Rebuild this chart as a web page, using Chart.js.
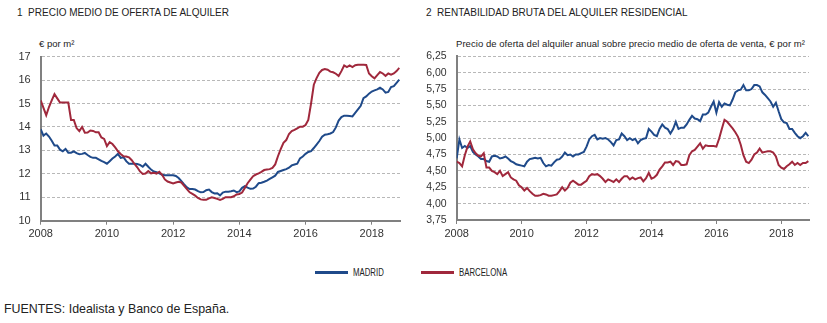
<!DOCTYPE html>
<html><head><meta charset="utf-8">
<script src="https://cdn.jsdelivr.net/npm/chart.js@4.4.0/dist/chart.umd.min.js"></script>
<style>
body{margin:0;background:#fff;width:827px;height:323px;overflow:hidden;position:relative;font-family:"Liberation Sans",Arial,sans-serif;color:#222}
.t{position:absolute;white-space:nowrap;line-height:1}
canvas{position:absolute}
.lg{position:absolute;height:3px;width:33px}
.lt{transform:scaleX(0.78);transform-origin:0 50%}
</style></head><body>
<div class="t" style="left:17px;top:8px;font-size:10px">1&nbsp; PRECIO MEDIO DE OFERTA DE ALQUILER</div>
<div class="t" style="left:39px;top:39px;font-size:9.5px">€ por m²</div>
<div class="t" style="left:426px;top:8px;font-size:10px">2&nbsp; RENTABILIDAD BRUTA DEL ALQUILER RESIDENCIAL</div>
<div class="t" style="left:456px;top:39px;font-size:9.5px;letter-spacing:0.05px">Precio de oferta del alquiler anual sobre precio medio de oferta de venta, € por m²</div>
<div class="lg" style="left:315px;top:271px;background:#1F4A8A"></div>
<div class="t lt" style="left:353px;top:267.5px;font-size:10px">MADRID</div>
<div class="lg" style="left:421px;top:271px;background:#A0283C"></div>
<div class="t lt" style="left:459px;top:267.5px;font-size:10px">BARCELONA</div>
<div class="t" style="left:4px;top:303px;font-size:12.4px">FUENTES: Idealista y Banco de España.</div>
<canvas id="c1" width="410" height="210" style="left:0;top:40px"></canvas>
<canvas id="c2" width="412" height="210" style="left:415px;top:40px"></canvas>
<script>
const startYear = 2008;
const yearTicks = [2008, 2010, 2012, 2014, 2016, 2018];
const seriesNames = ['MADRID', 'BARCELONA'];
const seriesColors = ['#1F4A8A', '#A0283C'];

// Chart 1: precio medio de oferta de alquiler (€/m²), monthly Jan 2008 - Nov 2018
const madridPrecio = [
 13.90,13.63,13.72,13.59,13.41,13.21,13.21,13.03,12.96,13.06,
 12.90,12.90,12.96,12.88,12.84,12.85,12.89,12.80,12.72,12.68,
 12.68,12.62,12.55,12.50,12.43,12.54,12.65,12.74,12.85,12.68,
 12.71,12.54,12.43,12.43,12.43,12.42,12.38,12.30,12.43,12.30,
 12.18,12.10,12.07,12.02,11.96,11.94,11.94,11.94,11.94,11.91,
 11.82,11.69,11.55,11.42,11.35,11.35,11.33,11.26,11.21,11.22,
 11.30,11.33,11.22,11.16,11.17,11.08,11.20,11.24,11.24,11.26,
 11.29,11.22,11.25,11.40,11.47,11.41,11.36,11.37,11.45,11.60,
 11.62,11.66,11.71,11.78,11.85,11.92,12.08,12.12,12.16,12.20,
 12.26,12.36,12.40,12.43,12.66,12.74,12.85,12.93,12.97,13.10,
 13.25,13.40,13.58,13.67,13.69,13.72,13.78,13.98,14.27,14.42,
 14.48,14.48,14.47,14.45,14.60,14.75,14.90,15.23,15.30,15.42,
 15.51,15.56,15.60,15.67,15.60,15.46,15.49,15.70,15.74,15.88,
 16.02];
const barcelonaPrecio = [
 15.13,14.81,14.50,14.85,15.13,15.40,15.22,15.04,15.04,15.04,
 15.04,14.30,14.30,13.95,13.82,14.00,13.75,13.76,13.85,13.83,
 13.77,13.77,13.55,13.49,13.18,13.35,13.27,13.13,12.96,12.85,
 12.75,12.74,12.70,12.58,12.42,12.28,12.10,11.99,12.01,12.12,
 12.02,12.04,12.01,12.09,11.96,11.76,11.67,11.63,11.59,11.63,
 11.66,11.63,11.49,11.35,11.21,11.14,11.07,10.97,10.91,10.89,
 10.89,10.95,11.00,10.97,10.93,10.89,10.93,11.00,11.00,11.00,
 11.04,11.12,11.14,11.20,11.40,11.60,11.75,11.90,11.97,12.02,
 12.08,12.16,12.18,12.20,12.25,12.40,12.75,13.05,13.32,13.44,
 13.70,13.82,13.87,13.94,14.01,14.01,14.08,14.30,15.00,15.80,
 16.08,16.31,16.43,16.47,16.44,16.36,16.33,16.27,16.17,16.38,
 16.62,16.55,16.62,16.55,16.63,16.65,16.65,16.65,16.64,16.28,
 16.16,16.07,16.21,16.34,16.28,16.18,16.28,16.23,16.28,16.38,
 16.52];

// Chart 2: rentabilidad bruta del alquiler (%)
const madridRent = [
 4.69,4.98,4.85,4.88,4.85,4.88,4.79,4.75,4.72,4.68,
 4.68,4.65,4.64,4.72,4.73,4.72,4.69,4.70,4.72,4.69,
 4.65,4.63,4.60,4.59,4.58,4.57,4.64,4.68,4.69,4.70,
 4.69,4.70,4.62,4.57,4.59,4.58,4.63,4.67,4.68,4.72,
 4.78,4.74,4.75,4.72,4.75,4.75,4.77,4.79,4.87,4.98,
 5.03,5.05,4.98,5.00,4.99,5.00,4.98,4.94,4.89,4.97,
 4.98,5.07,5.03,4.97,5.00,4.97,4.99,4.92,4.97,4.99,
 5.00,5.14,5.10,5.05,5.03,5.14,5.21,5.16,5.14,5.07,
 5.14,5.25,5.14,5.16,5.16,5.21,5.28,5.34,5.30,5.29,
 5.26,5.36,5.36,5.39,5.48,5.56,5.39,5.55,5.48,5.53,
 5.51,5.50,5.59,5.70,5.73,5.74,5.81,5.73,5.73,5.75,
 5.81,5.81,5.79,5.70,5.66,5.61,5.56,5.48,5.54,5.41,
 5.29,5.24,5.23,5.14,5.14,5.08,5.03,5.00,5.03,5.08,
 5.03];
const barcelonaRent = [
 4.64,4.62,4.57,4.74,4.87,4.95,4.83,4.77,4.73,4.72,
 4.77,4.55,4.55,4.50,4.48,4.45,4.50,4.42,4.45,4.48,
 4.40,4.37,4.35,4.28,4.25,4.20,4.24,4.19,4.15,4.12,
 4.12,4.13,4.15,4.14,4.12,4.12,4.13,4.14,4.19,4.25,
 4.20,4.24,4.32,4.35,4.32,4.29,4.29,4.32,4.35,4.42,
 4.45,4.44,4.45,4.42,4.38,4.33,4.37,4.35,4.33,4.37,
 4.33,4.38,4.42,4.42,4.37,4.40,4.37,4.39,4.40,4.34,
 4.39,4.47,4.38,4.40,4.44,4.52,4.57,4.63,4.63,4.64,
 4.59,4.65,4.64,4.59,4.59,4.60,4.74,4.80,4.82,4.87,
 4.92,4.84,4.89,4.88,4.88,4.88,4.87,4.99,5.14,5.28,
 5.25,5.20,5.15,5.09,5.02,4.90,4.74,4.64,4.62,4.67,
 4.75,4.78,4.84,4.78,4.79,4.80,4.80,4.78,4.72,4.59,
 4.55,4.53,4.57,4.60,4.64,4.59,4.62,4.59,4.62,4.62,
 4.65];

// month positions (categories): Jan 2008 ... Nov 2018
const months = madridPrecio.map((_, i) => startYear + i / 12);

const FONT = '"Liberation Sans", Arial, sans-serif';
Chart.defaults.font.family = FONT;
Chart.defaults.color = '#333';

function makeChart(id, seriesA, seriesB, yMin, yMax, yStep, fmt, yW, padTop, padRight, xH, fsY) {
  const toPts = arr => arr.map((v, i) => ({x: months[i], y: v}));
  new Chart(document.getElementById(id), {
    type: 'line',
    data: {
      datasets: [seriesA, seriesB].map((s, k) => ({
        label: seriesNames[k],
        data: toPts(s),
        borderColor: seriesColors[k],
        backgroundColor: seriesColors[k],
        borderWidth: 2,
        pointRadius: 0,
        tension: 0,
        order: k === 0 ? 1 : 0
      }))
    },
    options: {
      responsive: false,
      animation: false,
      devicePixelRatio: 1,
      layout: {padding: {top: padTop, right: padRight, left: 0, bottom: 0}},
      plugins: {legend: {display: false}, tooltip: {enabled: false}},
      scales: {
        x: {
          type: 'linear',
          min: startYear,
          max: months[months.length - 1] + 0.02,
          afterBuildTicks: s => { s.ticks = yearTicks.map(v => ({value: v})); },
          afterFit: s => { s.height = xH; },
          ticks: {callback: v => String(v), font: {size: 11}, padding: 3, maxRotation: 0, color: '#333'},
          grid: {drawOnChartArea: false, drawTicks: true, tickLength: 4, color: '#808080', lineWidth: 1},
          border: {display: true, color: '#808080', width: 2}
        },
        y: {
          type: 'linear',
          min: yMin, max: yMax,
          afterFit: s => { s.width = yW; },
          ticks: {stepSize: yStep, callback: fmt, font: {size: fsY}, padding: 10, color: '#333'},
          grid: {drawTicks: false, color: '#b8b8b8', lineWidth: 1},
          border: {display: true, color: '#808080', width: 2, dash: [3, 2]}
        }
      }
    }
  });
}

makeChart('c1', madridPrecio, barcelonaPrecio, 10, 17, 1, v => String(v), 40.7, 15, 10, 29.3, 11);
makeChart('c2', madridRent, barcelonaRent, 3.75, 6.25, 0.25, v => v.toFixed(2).replace('.', ','), 41.7, 14, 18, 30, 10.5);
</script>
</body></html>
